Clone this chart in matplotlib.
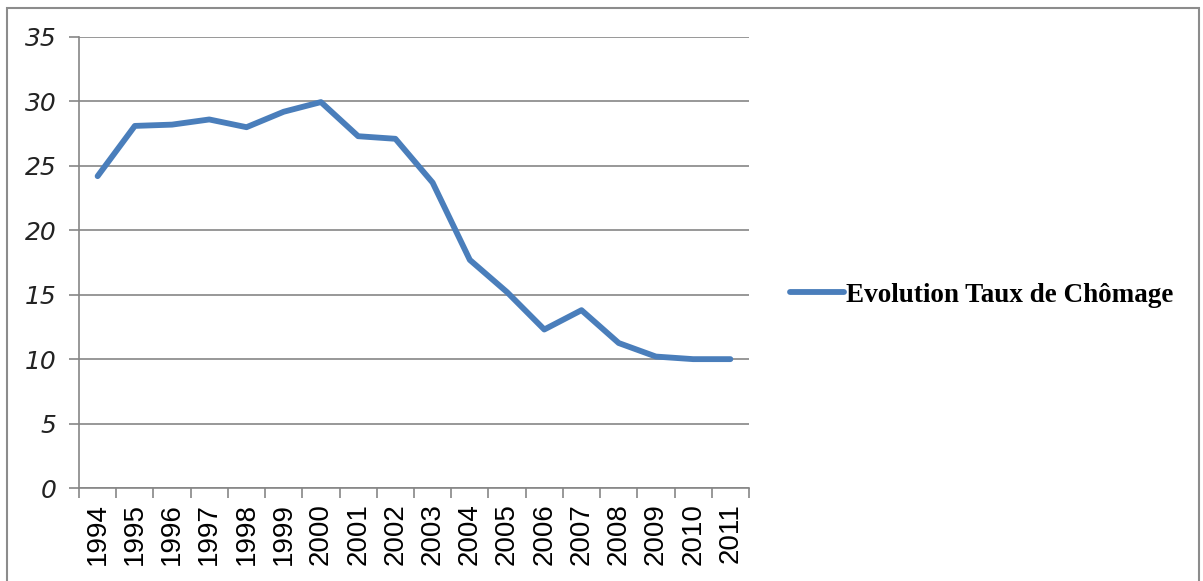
import matplotlib.pyplot as plt
import numpy as np
from matplotlib.patches import Rectangle

# taux de chômage par année
years = ['1994', '1995', '1996', '1997', '1998', '1999', '2000', '2001', '2002',
         '2003', '2004', '2005', '2006', '2007', '2008', '2009', '2010', '2011']
taux = [24.2, 28.1, 28.2, 28.6, 28.0, 29.2, 29.95, 27.3, 27.1,
        23.7, 17.7, 15.2, 12.3, 13.8, 11.25, 10.2, 10.0, 10.0]
yticks = [0, 5, 10, 15, 20, 25, 30, 35]

line_color = '#4A7EBB'
grid_color = '#868686'

fig = plt.figure(figsize=(12.03, 5.81), dpi=100)
ax = fig.add_axes([79 / 1203, 93 / 581, 670 / 1203, 451 / 581])

x = np.arange(len(years))
ax.plot(x, taux, color=line_color, linewidth=4.2, solid_joinstyle='round',
        solid_capstyle='round', label='Evolution Taux de Chômage')

ax.set_xlim(-0.5, len(years) - 0.5)
ax.set_ylim(0, 35)
ax.set_yticks(yticks)
ax.set_yticklabels([str(v) for v in yticks], fontsize=18, style='italic',
                   family='DejaVu Sans', color='#222222')
ax.yaxis.grid(True, color=grid_color, linewidth=1.2)
ax.set_axisbelow(True)

# labels centred on categories, ticks on the boundaries
ax.set_xticks(x)
ax.set_xticklabels(years, rotation=90, fontsize=20, family='Liberation Sans')
ax.set_xticks(np.arange(-0.5, len(years)), minor=True)
ax.tick_params(axis='x', which='major', length=0, pad=11)
ax.tick_params(axis='x', which='minor', length=7, width=1.2, color=grid_color)
ax.tick_params(axis='y', length=7, width=1.2, color=grid_color, pad=9)

for side in ['top', 'right']:
    ax.spines[side].set_visible(False)
for side in ['left', 'bottom']:
    ax.spines[side].set_color(grid_color)
    ax.spines[side].set_linewidth(1.2)

leg = fig.legend(loc='center left', bbox_to_anchor=(790 / 1203, 1 - 295 / 581),
                 frameon=False, borderpad=0, borderaxespad=0,
                 handlelength=2.0, handletextpad=0.05,
                 prop={'family': 'Liberation Serif', 'weight': 'bold', 'size': 19.5})

# cadre extérieur
fig.patches.append(Rectangle((7 / 1203, -0.1), 1192 / 1203, 1.1 - 8 / 581,
                             transform=fig.transFigure, fill=False,
                             edgecolor='#8c8c8c', linewidth=1.5))

fig.savefig('out.png', dpi=100)
